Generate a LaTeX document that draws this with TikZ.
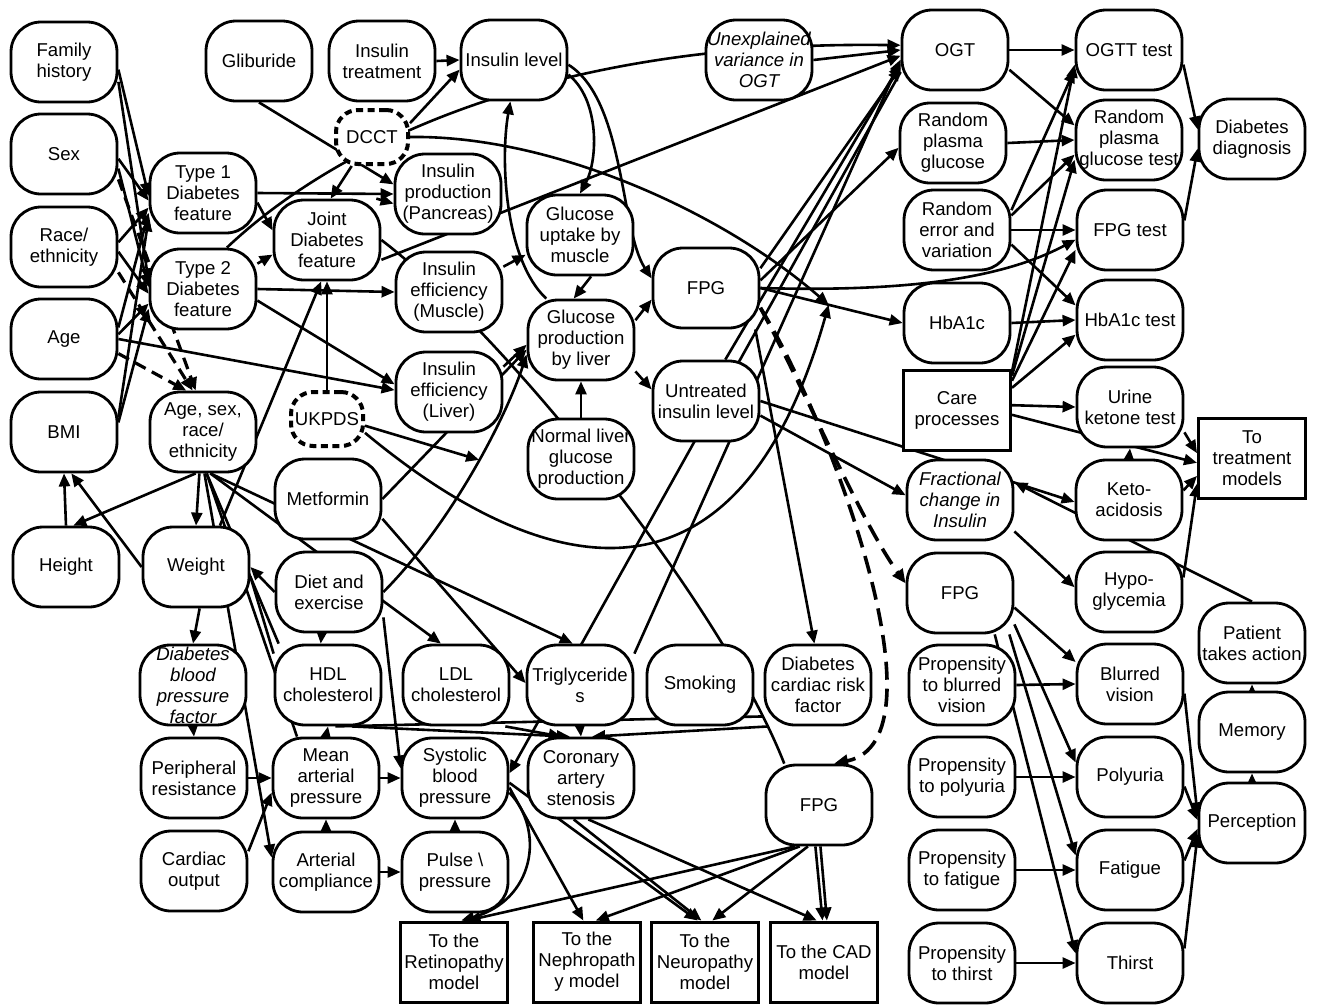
\documentclass[tikz,border=0pt]{standalone}
\usepackage{fontspec}
\setmainfont{Liberation Sans}
\usetikzlibrary{arrows.meta}
\pgfdeclarelayer{paper}
\pgfdeclarelayer{links}
\pgfsetlayers{paper,links,main}
\begin{document}
\begin{tikzpicture}[x=1pt,y=-1pt,
  txt/.style={font=\fontsize{18.6}{21}\selectfont},
  bub/.style={txt, draw, line width=2.8pt, rounded corners=30pt, fill=white,
    minimum width=106pt, minimum height=80pt, inner sep=0pt, align=center},
  box/.style={txt, draw, line width=3pt, fill=white,
    minimum width=107pt, minimum height=80pt, inner sep=0pt, align=center},
  trial/.style={txt, draw, line width=4pt, dash pattern=on 7pt off 4.5pt,
    rounded corners=22pt, fill=white, minimum width=72pt, minimum height=54pt, inner sep=0pt},
  lat/.style={font=\fontsize{18.6}{21}\selectfont\itshape},
  ar/.style={line width=2.6pt, -{Triangle[length=13pt,width=11pt]}},
  ln/.style={line width=2.6pt},
  dar/.style={line width=3.6pt, dash pattern=on 18pt off 9pt, -{Triangle[length=14pt,width=12pt]}},
  dsh/.style={line width=3.2pt, dash pattern=on 12pt off 7pt, -{Triangle[length=13pt,width=11pt]}},
]
\begin{pgfonlayer}{paper}
  \fill[white] (0,0) rectangle (1320,1005);
\end{pgfonlayer}
\useasboundingbox (0,0) rectangle (1320,1005);

% ---------- nodes ----------
\node[bub] (famhist) at (64,62) {Family\\history};
\node[bub] (sex) at (64,154) {Sex};
\node[bub] (race) at (64,247) {Race/\\ethnicity};
\node[bub] (age) at (64,339) {Age};
\node[bub] (bmi) at (64,432) {BMI};
\node[bub] (height) at (66,567) {Height};
\node[bub] (type1) at (203,193) {Type 1\\Diabetes\\feature};
\node[bub] (type2) at (203,289) {Type 2\\Diabetes\\feature};
\node[bub] (agesex) at (203,432) {Age, sex,\\race/\\ethnicity};
\node[bub] (weight) at (196,567) {Weight};
\node[bub,lat] (dbpf) at (193,685) {Diabetes\\blood\\pressure\\factor};
\node[bub] (perres) at (194,778) {Peripheral\\resistance};
\node[bub] (cardiac) at (194,871) {Cardiac\\output};
\node[bub] (glib) at (259,61) {Gliburide};
\node[bub] (instreat) at (382,61) {Insulin\\treatment};
\node[trial] (dcct) at (372,137) {DCCT};
\node[bub] (joint) at (327,240) {Joint\\Diabetes\\feature};
\node[trial] (ukpds) at (327,419) {UKPDS};
\node[bub] (metformin) at (328,499) {Metformin};
\node[bub] (diet) at (329,592) {Diet and\\exercise};
\node[bub] (hdl) at (328,685) {HDL\\cholesterol};
\node[bub] (map) at (326,778) {Mean\\arterial\\pressure};
\node[bub] (artcomp) at (326,872) {Arterial\\compliance};
\node[bub] (inslevel) at (514,60) {Insulin level};
\node[bub] (pancreas) at (448,194) {Insulin\\production\\(Pancreas)};
\node[bub] (muscle) at (449,292) {Insulin\\efficiency\\(Muscle)};
\node[bub] (liver) at (449,392) {Insulin\\efficiency\\(Liver)};
\node[bub] (ldl) at (456,685) {LDL\\cholesterol};
\node[bub] (sbp) at (455,778) {Systolic\\blood\\pressure};
\node[bub] (pulse) at (455,872) {Pulse \textbackslash\\pressure};
\node[bub] (gupt) at (580,235) {Glucose\\uptake by\\muscle};
\node[bub] (gprod) at (581,340) {Glucose\\production\\by liver};
\node[bub] (normliv) at (581,459) {Normal liver\\glucose\\production};
\node[bub] (trig) at (580,685) {Triglyceride\\s};
\node[bub] (cas) at (581,778) {Coronary\\artery\\stenosis};
\node[bub] (fpg) at (706,288) {FPG};
\node[bub] (untr) at (706,401) {Untreated\\insulin level};
\node[bub] (smoking) at (700,685) {Smoking};
\node[bub] (dcrf) at (818,685) {Diabetes\\cardiac risk\\factor};
\node[bub] (fpgb) at (819,805) {FPG};
\node[bub,lat] (unexp) at (759,60) {Unexplained\\variance in\\OGT};
\node[bub] (ogt) at (955,50) {OGT};
\node[bub] (rpg) at (953,143) {Random\\plasma\\glucose};
\node[bub] (randerr) at (957,230) {Random\\error and\\variation};
\node[bub] (hba) at (957,323) {HbA1c};
\node[box] (care) at (957,410) {Care\\processes};
\node[bub,lat] (frac) at (960,500) {Fractional\\change in\\Insulin};
\node[bub] (fpgr) at (960,593) {FPG};
\node[bub] (pblur) at (962,685) {Propensity\\to blurred\\vision};
\node[bub] (ppoly) at (962,777) {Propensity\\to polyuria};
\node[bub] (pfat) at (962,870) {Propensity\\to fatigue};
\node[bub] (pthirst) at (962,963) {Propensity\\to thirst};
\node[bub] (ogtt) at (1129,50) {OGTT test};
\node[bub] (rpgt) at (1129,140) {Random\\plasma\\glucose test};
\node[bub] (fpgt) at (1130,230) {FPG test};
\node[bub] (hbat) at (1130,320) {HbA1c test};
\node[bub] (urine) at (1130,407) {Urine\\ketone test};
\node[bub] (keto) at (1129,500) {Keto-\\acidosis};
\node[bub] (hypo) at (1129,592) {Hypo-\\glycemia};
\node[bub] (blur) at (1130,684) {Blurred\\vision};
\node[bub] (poly) at (1130,777) {Polyuria};
\node[bub] (fat) at (1130,870) {Fatigue};
\node[bub] (thirst) at (1130,963) {Thirst};
\node[bub] (diag) at (1252,139) {Diabetes\\diagnosis};
\node[box] (totreat) at (1252,458) {To\\treatment\\models};
\node[bub] (patient) at (1252,643) {Patient\\takes action};
\node[bub] (memory) at (1252,732) {Memory};
\node[bub] (percep) at (1252,823) {Perception};
\node[box] (retino) at (454,962) {To the\\Retinopathy\\model};
\node[box] (nephro) at (587,962) {To the\\Nephropath\\y model};
\node[box] (neuro) at (705,962) {To the\\Neuropathy\\model};
\node[box] (cad) at (824,962) {To the CAD\\model};

% ---------- connectors ----------
\begin{pgfonlayer}{links}
% demographics to diabetes type
\draw[ar] (famhist.-8) -- (type1.183);
\draw[ar] (famhist.-20) -- (type2.172);
\draw[ar] (sex.-5) -- (type1.188);
\draw[ar] (sex.-15) -- (type2.178);
\draw[ar] (race.5) -- (type1.195);
\draw[ar] (race.-5) -- (type2.185);
\draw[ar] (age.12) -- (type1.200);
\draw[ar] (age.5) -- (type2.195);
\draw[ar] (bmi.15) -- (type1.205);
\draw[ar] (bmi.10) -- (type2.200);
\draw[dsh] (sex.-25) -- (agesex.100);
\draw[dsh] (race.-25) -- (agesex.104);
\draw[dsh] (age.-15) -- (agesex.112);
\draw[ar] (age.east) -- (liver.178);

% diabetes features
\draw[ar] (type1.east) -- (pancreas.west);
\draw[ar] (type1.-10) -- (joint.170);
\draw[ar] (type2.25) -- (joint.195);
\draw[ar] (type2.east) -- (muscle.west);
\draw[ar] (type2.-12) -- (liver.172);
\draw[ar] (type2.60) .. controls (330,150) and (540,40) .. (ogt.175);
\draw[ar] (joint.40) -- (pancreas.190);
\draw[ar] (joint.-20) -- (ogt.186);
\draw[ln] (joint.east) .. controls (500,330) and (720,600) .. (fpgb.130);
\draw[ar] (glib.south) -- (pancreas.170);
\draw[ar] (instreat.east) -- (inslevel.west);
\draw[ar] (dcct.20) -- (inslevel.190);
\draw[ar] (dcct.235) -- (joint.85);
\draw[ar] (ukpds.north) -- (joint.south);
\draw[ar] (weight.60) -- (joint.262);

% insulin and glucose
\draw[ar] (inslevel.-15) .. controls (600,100) and (598,160) .. (gupt.north);
\draw[ar] (inslevel.-5) .. controls (625,100) and (620,230) .. (fpg.170);
\draw[ar] (gprod.130) .. controls (505,260) and (500,160) .. (inslevel.-95);
\draw[ar] (muscle.25) -- (gupt.200);
\draw[ar] (gupt.-75) -- (gprod.100);
\draw[ar] (liver.25) -- (gprod.185);
\draw[ar] (metformin.east) -- (gprod.190);
\draw[ar] (diet.east) .. controls (450,525) and (505,420) .. (gprod.195) coordinate[pos=0.55] (eB);
\draw[ar] (normliv.north) -- (gprod.south);
\draw[ar] (gprod.20) -- (fpg.192);
\draw[ar] (gprod.-30) -- (untr.168);
\draw[ar] (ukpds.-10) -- (eB);

% glucose measures
\draw[ar] (fpg.east) -- (hba.west) coordinate[pos=0.48] (eA);
\draw[ar] (dcct.east) .. controls (550,135) and (720,210) .. (eA);
\draw[ar] (ukpds.-20) .. controls (470,520) and (720,690) .. (eA);
\draw[ar] (fpg.east) .. controls (900,292) and (1000,280) .. (fpgt.190);
\draw[ar] (fpg.20) -- (ogt.198);
\draw[ar] (fpg.8) -- (rpg.185);
\draw[ar] (fpg.-40) -- (dcrf.95);
\draw[dar] (fpg.-20) .. controls (810,400) and (860,520) .. (fpgr.170);
\draw[dar] (fpg.-20) .. controls (830,420) and (950,740) .. (fpgb.70);
\draw[ar] (untr.65) -- (ogt.194);
\draw[ar] (trig.30) -- (ogt.190);
\draw[ar] (ogt.202) -- (sbp.5);
\draw[ar] (unexp.east) -- (ogt.west);
\draw[ar] (untr.-15) -- (frac.175);
\draw[ar] (untr.east) -- (keto.182);
\draw[ar] (patient.north) -- (frac.18);
\draw[ar] (frac.-30) -- (hypo.175);

% tests and diagnosis
\draw[ar] (ogt.east) -- (ogtt.west);
\draw[ar] (ogt.-20) -- (rpgt.165);
\draw[ar] (rpg.east) -- (rpgt.west);
\draw[ar] (hba.east) -- (hbat.west);
\draw[ar] (randerr.20) -- (ogtt.200);
\draw[ar] (randerr.15) -- (rpgt.195);
\draw[ar] (randerr.east) -- (fpgt.west);
\draw[ar] (randerr.-15) -- (hbat.165);
\draw[ar] (care.35) -- (ogtt.195);
\draw[ar] (care.32) -- (rpgt.200);
\draw[ar] (care.28) -- (fpgt.200);
\draw[ar] (care.22) -- (hbat.195);
\draw[ar] (care.5) -- (urine.west);
\draw[ar] (care.-5) -- (totreat.185);
\draw[ar] (ogtt.-15) -- (diag.170);
\draw[ar] (fpgt.10) -- (diag.190);
\draw[ar] (keto.north) -- (urine.south);
\draw[ar] (urine.-25) -- (totreat.175);
\draw[ar] (keto.10) -- (totreat.198);
\draw[ar] (hypo.15) -- (totreat.205);

% symptoms
\draw[ar] (fpgr.-15) -- (blur.158);
\draw[ar] (fpgr.-30) -- (poly.165);
\draw[ar] (fpgr.-40) -- (fat.165);
\draw[ar] (fpgr.-50) -- (thirst.170);
\draw[ar] (pblur.east) -- (blur.west);
\draw[ar] (ppoly.east) -- (poly.west);
\draw[ar] (pfat.east) -- (fat.west);
\draw[ar] (pthirst.east) -- (thirst.west);
\draw[ar] (blur.-10) -- (percep.172);
\draw[ar] (poly.-10) -- (percep.177);
\draw[ar] (fat.10) -- (percep.186);
\draw[ar] (thirst.15) -- (percep.192);
\draw[ar] (percep.north) -- (memory.south);
\draw[ar] (memory.north) -- (patient.south);

% body measures
\draw[ar] (height.north) -- (bmi.south);
\draw[ar] (weight.west) -- (bmi.-80);
\draw[ar] (agesex.-100) -- (height.80);
\draw[ar] (agesex.-95) -- (weight.north);
\draw[ar] (agesex.-80) -- (trig.100);
\draw[ar] (agesex.-80) -- (ldl.110);
\draw[ln] (agesex.-85) -- (hdl.140);
\draw[ln] (agesex.-85) -- (map.125);
\draw[ar] (agesex.-88) -- (artcomp.165);
\draw[ar] (diet.west) -- (weight.east);
\draw[ln] (weight.-10) -- (hdl.150);
\draw[ar] (diet.-100) -- (hdl.100);
\draw[ar] (diet.-25) -- (sbp.170);
\draw[ar] (metformin.-20) -- (trig.178);
\draw[ar] (weight.-85) -- (dbpf.north);
\draw[ar] (dbpf.south) -- (perres.north);
\draw[ar] (perres.east) -- (map.west);
\draw[ar] (cardiac.20) -- (map.195);
\draw[ar] (artcomp.north) -- (map.south);
\draw[ar] (map.north) -- (hdl.south);
\draw[ar] (map.east) -- (sbp.west);
\draw[ar] (artcomp.east) -- (pulse.west);
\draw[ar] (pulse.north) -- (sbp.south);

% cardiovascular
\draw[ar] (hdl.-60) -- (cas.105);
\draw[ar] (ldl.-40) -- (cas.115);
\draw[ar] (trig.south) -- (cas.north);
\draw[ar] (dcrf.-140) -- (cas.75);
\draw[ln] (dcrf.-150) -- (hdl.-80);
\draw[ar] (sbp.-15) .. controls (545,830) and (535,900) .. (retino.80);
\draw[ar] (sbp.-10) -- (nephro.95);
\draw[ar] (sbp.-5) -- (neuro.100);
\draw[ar] (cas.-100) -- (neuro.95);
\draw[ar] (cas.-80) -- (cad.100);
\draw[ar] (fpgb.-120) -- (retino.72);
\draw[ar] (fpgb.-115) -- (nephro.78);
\draw[ar] (fpgb.-105) -- (neuro.80);
\draw[ar] (fpgb.-95) -- (cad.92);
\draw[ar] (fpgb.-88) -- (cad.86);
\end{pgfonlayer}
\end{tikzpicture}
\end{document}
